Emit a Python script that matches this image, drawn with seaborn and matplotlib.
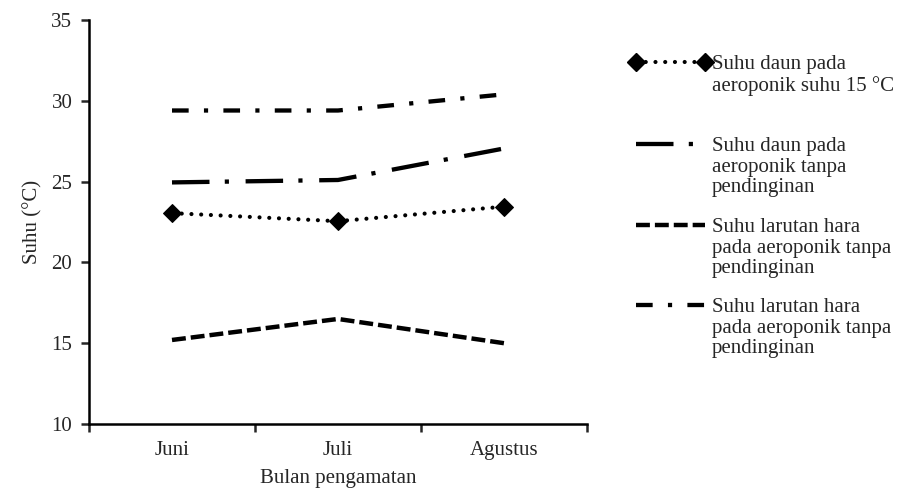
import matplotlib
matplotlib.use("Agg")
import pandas as pd
import seaborn as sns
import matplotlib.pyplot as plt
from matplotlib.lines import Line2D

# data
months = ["Juni", "Juli", "Agustus"]
daun_15 = [23.05, 22.55, 23.45]
daun_tanpa = [24.95, 25.1, 27.05]
larutan_a = [15.2, 16.5, 15.0]
larutan_b = [29.4, 29.4, 30.4]

labels = [
    "Suhu daun pada\naeroponik suhu 15 °C",
    "Suhu daun pada\naeroponik tanpa\npendinginan",
    "Suhu larutan hara\npada aeroponik tanpa\npendinginan",
    "Suhu larutan hara\npada aeroponik tanpa\npendinginan",
]

sns.set_theme(style="ticks")
plt.rcParams["font.family"] = ["Liberation Serif", "DejaVu Serif"]
plt.rcParams["lines.scale_dashes"] = False

fig = plt.figure(figsize=(9, 4.92), dpi=100)
ax = fig.add_axes([89 / 900, 1 - 424 / 492, (587 - 89) / 900, (424 - 20) / 492])

# styles for each series (dash patterns in points)
styles = [
    dict(linestyle=(0, (0.01, 7)), lw=3.0, dash_capstyle="round",
         marker="D", markersize=9, mec="black", mfc="black"),
    dict(linestyle=(0, (27, 11, 3, 12)), lw=3.1),
    dict(linestyle=(0, (10, 3.6)), lw=3.2),
    dict(linestyle=(0, (12, 11, 3, 11)), lw=3.1),
]
series = [daun_15, daun_tanpa, larutan_a, larutan_b]

for vals, st in zip(series, styles):
    df = pd.DataFrame({"Bulan": months, "Suhu": vals})
    sns.lineplot(data=df, x="Bulan", y="Suhu", sort=False, color="black",
                 ax=ax, **st)

ax.set_xlim(-0.5, 2.5)
ax.set_ylim(10, 35)
ax.set_yticks([10, 15, 20, 25, 30, 35])
ax.set_xticks([0, 1, 2])
ax.set_xticks([-0.5, 0.5, 1.5, 2.5], minor=True)
ax.tick_params(axis="x", which="major", length=0, labelsize=15, pad=12)
ax.tick_params(axis="x", which="minor", length=6, width=1.8, direction="out")
ax.tick_params(axis="y", length=6, width=1.8, labelsize=15, pad=6)
for s in ["top", "right"]:
    ax.spines[s].set_visible(False)
ax.spines["left"].set_linewidth(1.8)
ax.spines["bottom"].set_linewidth(1.8)
ax.spines["left"].set_color("black")
ax.spines["bottom"].set_color("black")
ax.set_xlabel("")
ax.set_ylabel("")

fig.text(33 / 900, 1 - 222 / 492, "Suhu (°C)", rotation=90, fontsize=15,
         ha="center", va="center")
fig.text(338 / 900, 1 - 479 / 492, "Bulan pengamatan", fontsize=15,
         ha="center", va="center")

# legend drawn by hand so the handles line up with the first text line
leg_y = [62, 144, 225, 305]
for lab, st, y in zip(labels, styles, leg_y):
    yy = 1 - y / 492
    ln = Line2D([636 / 900, 705 / 900], [yy, yy], transform=fig.transFigure,
                color="black", **st)
    fig.add_artist(ln)
    fig.text(712 / 900, 1 - (y - 7) / 492, lab, fontsize=15, ha="left",
             va="top", linespacing=1.12)

fig.savefig("out.png", dpi=100)
